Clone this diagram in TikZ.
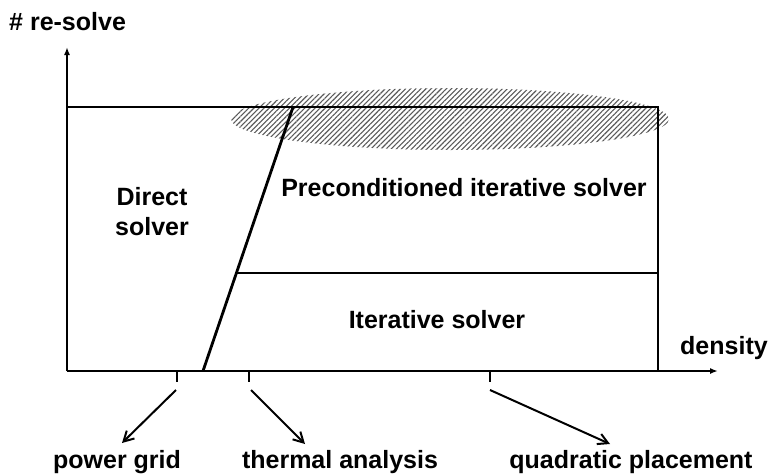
\documentclass[tikz,border=0pt]{standalone}
\usepackage{fontspec}
\setmainfont{Liberation Sans}
\usetikzlibrary{patterns.meta,arrows.meta}
\begin{document}
\begin{tikzpicture}[x=1pt,y=-1pt,
  lbl/.style={font=\bfseries\fontsize{25}{30}\selectfont, inner sep=0pt},
  box/.style={line width=2.8pt},
  axis/.style={line width=2.2pt,-{Latex[length=8pt,width=6pt]}},
  tick/.style={line width=2pt},
  ptr/.style={line width=2pt,-{Straight Barb[length=10pt,width=11pt]}}]
\useasboundingbox (0,0) rectangle (768,474);
% hatched region
\fill[pattern={Lines[angle=45,distance=3.6pt,line width=1.1pt]}, pattern color=black!65] (450,119) ellipse [x radius=219, y radius=31];
% coordinates
\coordinate (O) at (67,371);
\coordinate (Ytop) at (67,47);
\coordinate (Xend) at (718,371);
\coordinate (TL) at (67,107);
\coordinate (TR) at (658,107);
\coordinate (BR) at (658,371);
\coordinate (S1) at (293,107);
\coordinate (S2) at (203,371);
\coordinate (M1) at (236,273);
\coordinate (M2) at (658,273);
% axes
\draw[axis] (O) -- (Ytop);
\draw[axis] (O) -- (Xend);
% regions
\draw[box] (TL) -- (TR) -- (BR);
\draw[box] (S1) -- (S2);
\draw[box] (M1) -- (M2);
% ticks
\coordinate (t1) at (177,371); \coordinate (t1b) at (177,382);
\coordinate (t2) at (249,371); \coordinate (t2b) at (249,382);
\coordinate (t3) at (490,371); \coordinate (t3b) at (490,382);
\draw[tick] (t1) -- (t1b);
\draw[tick] (t2) -- (t2b);
\draw[tick] (t3) -- (t3b);
\coordinate (a1) at (176,390); \coordinate (a1e) at (122,443);
\coordinate (a2) at (251,390); \coordinate (a2e) at (305,444);
\coordinate (a3) at (490,390); \coordinate (a3e) at (610,444);
\draw[ptr] (a1) -- (a1e);
\draw[ptr] (a2) -- (a2e);
\draw[ptr] (a3) -- (a3e);
% labels
\node[lbl, anchor=west] (yl) at (9,22) {\# re-solve};
\node[lbl, anchor=west] (xl) at (680,348) {density};
\node[lbl] (pg) at (117,462) {power grid};
\node[lbl] (ta) at (340,462) {thermal analysis};
\node[lbl] (qp) at (631,462) {quadratic placement};
\node[lbl, align=center] (ds) at (152,212) {Direct\\solver};
\node[lbl] (pis) at (464,188) {Preconditioned iterative solver};
\node[lbl] (is) at (437,320) {Iterative solver};
\end{tikzpicture}
\end{document}
